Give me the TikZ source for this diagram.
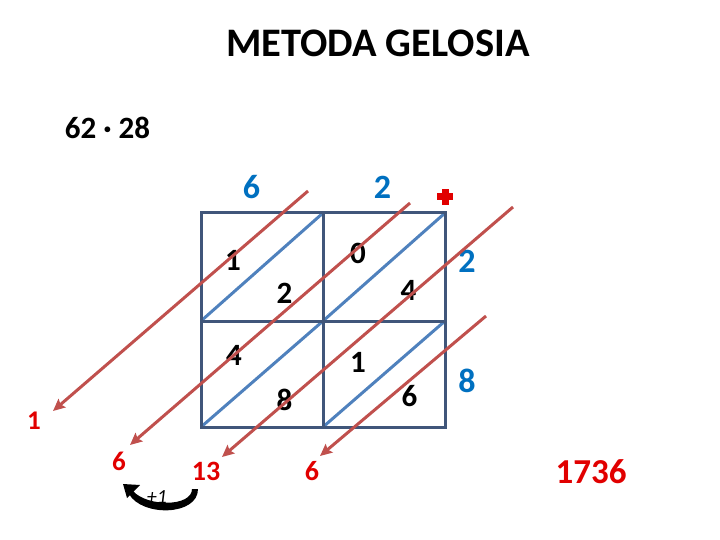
\documentclass[tikz,border=0pt]{standalone}
\usepackage{fontspec}
\setmainfont{Carlito}
\usetikzlibrary{arrows.meta}
\definecolor{gridc}{RGB}{64,86,122}
\definecolor{diagc}{RGB}{79,129,189}
\definecolor{arrc}{RGB}{192,80,77}
\definecolor{bluec}{RGB}{0,112,192}
\definecolor{redc}{RGB}{225,0,0}
\tikzset{
  lbl/.style={anchor=base,inner sep=0pt,font=\bfseries\fontsize{#1}{#1}\selectfont},
  cellnum/.style={lbl=31pt,text=black},
  bluenum/.style={lbl=34pt,text=bluec},
  rednum/.style={lbl=27pt,text=redc},
  diagarrow/.style={draw=arrc,line width=3pt,-{Stealth[length=12pt,width=11pt,inset=2pt]}},
  gridline/.style={draw=gridc,line width=3pt},
  diagline/.style={draw=diagc,line width=3pt}
}
\begin{document}
\begin{tikzpicture}[x=1pt,y=-1pt]
\useasboundingbox (0,0) rectangle (720,540);
% title
\node[lbl=40.5pt] (title) at (378,57) {METODA GELOSIA};
\node[lbl=31pt] (expr) at (107.5,139) {62 · 28};
% grid
\coordinate (g00) at (201,213);
\coordinate (g10) at (323,213);
\coordinate (g20) at (445,213);
\coordinate (g01) at (201,321);
\coordinate (g11) at (323,321);
\coordinate (g21) at (445,321);
\coordinate (g02) at (201,427);
\coordinate (g12) at (323,427);
\coordinate (g22) at (445,427);
\draw[diagline] (g01) -- (g10);
\draw[diagline] (g11) -- (g20);
\draw[diagline] (g02) -- (g11);
\draw[diagline] (g12) -- (g21);
\draw[gridline] (g00) rectangle (g22);
\draw[gridline] (g10) -- (g12);
\draw[gridline] (g01) -- (g21);
% cell numbers
\node[cellnum] (c1) at (233,270) {1};
\node[cellnum] (c2) at (284.5,303) {2};
\node[cellnum] (c3) at (358,263) {0};
\node[cellnum] (c4) at (408.5,300) {4};
\node[cellnum] (c5) at (234,365) {4};
\node[cellnum] (c6) at (284.5,410) {8};
\node[cellnum] (c7) at (358,372) {1};
\node[cellnum] (c8) at (409.5,406) {6};
% factors
\node[bluenum] (t6) at (251.5,199) {6};
\node[bluenum] (t2) at (382.5,199) {2};
\node[bluenum] (r2) at (467,272) {2};
\node[bluenum] (r8) at (467,392) {8};
% plus sign
\fill[redc] (441.5,189) rectangle (448.5,205);
\fill[redc] (437,193.5) rectangle (453,200.5);
% diagonal arrows
\coordinate (a1s) at (308,191);
\coordinate (a1e) at (53,411);
\coordinate (a2s) at (410,203);
\coordinate (a2e) at (130,445);
\coordinate (a3s) at (513,207);
\coordinate (a3e) at (222,457);
\coordinate (a4s) at (486,316);
\coordinate (a4e) at (320,456);
\draw[diagarrow] (a1s) -- (a1e);
\draw[diagarrow] (a2s) -- (a2e);
\draw[diagarrow] (a3s) -- (a3e);
\draw[diagarrow] (a4s) -- (a4e);
% results
\node[rednum] (s1) at (34,429) {1};
\node[rednum] (s2) at (119,470) {6};
\node[rednum,lbl=28pt] (s3) at (206,480) {13};
\node[rednum,lbl=28pt] (s4) at (312,480) {6};
\node[lbl=35pt,text=redc] (res) at (591,483) {1736};
% carry arrow (tapered)
\coordinate (cr) at (198,489);
\coordinate (cl) at (123,484);
\fill (198,489) .. controls (198,516) and (142,517) .. (129,494)
      -- (133,491) .. controls (147,507) and (192,507) .. (192,489) -- cycle;
\fill (cl) -- (140,485) -- (127,498) -- cycle;
\node[anchor=base,inner sep=0pt,font=\itshape\fontsize{20pt}{20pt}\selectfont] (carry) at (157,503) {+1};
\end{tikzpicture}
\end{document}
